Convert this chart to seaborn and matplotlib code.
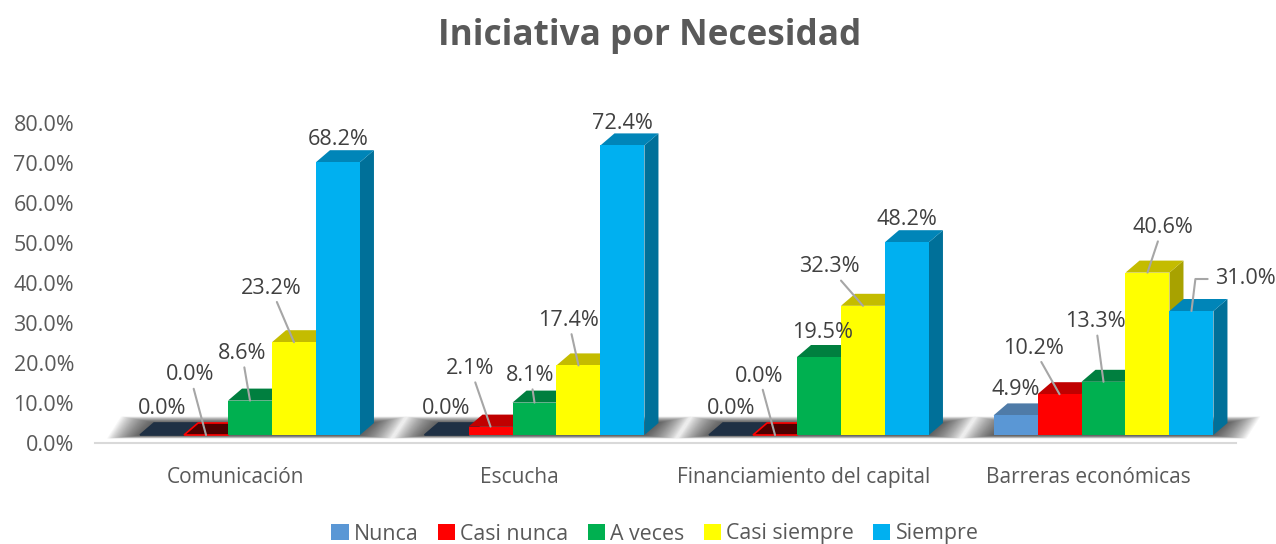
import numpy as np
import pandas as pd
import seaborn as sns
import matplotlib
matplotlib.use("Agg")
import matplotlib.pyplot as plt
from matplotlib.patches import Polygon
from matplotlib.transforms import ScaledTranslation

categories = ["Comunicación", "Escucha", "Financiamiento del capital", "Barreras económicas"]
series = ["Nunca", "Casi nunca", "A veces", "Casi siempre", "Siempre"]
nunca = [0.0, 0.0, 0.0, 4.9]
casi_nunca = [0.0, 2.1, 0.0, 10.2]
a_veces = [8.6, 8.1, 19.5, 13.3]
casi_siempre = [23.2, 17.4, 32.3, 40.6]
siempre = [68.2, 72.4, 48.2, 31.0]
y_ticks = [0, 10, 20, 30, 40, 50, 60, 70, 80]
title_text = "Iniciativa por Necesidad"

front = ["#5A97D5", "#FF0000", "#00B050", "#FFFF00", "#00B0F0"]
top = ["#4F7BA8", "#C00000", "#007F3F", "#C4BC00", "#0085B8"]
side = ["#3E6E9A", "#A00000", "#006B35", "#A8A200", "#007099"]
zero_top = ["#1F3044", "#4D0000", "#007F3F", "#C4BC00", "#0085B8"]
zero_edge = ["#1F3044", "#FF0000", "#007F3F", "#C4BC00", "#0085B8"]

# label offsets from the bar's front top centre, in pixels (category, then series)
label_dx = [[0, -16, -8, -23, 0], [0, -20, -4, -10, 0], [0, -16, 4, -34, 0], [0, -26, -8, 15, 54]]
label_dy = [[27, 60, 47, 54, 23], [27, 58, 27, 45, 22], [27, 59, 24, 39, 23], [26, 46, 60, 45, 32]]
leader = [[0, 1, 1, 1, 0], [0, 1, 1, 1, 0], [0, 1, 0, 1, 0], [0, 1, 1, 1, 2]]

FONT = "Open Sans"
W, H = 1276, 544
sns.set_theme(style="white")
plt.rcParams["font.family"] = [FONT, "DejaVu Sans"]

values = [nunca, casi_nunca, a_veces, casi_siempre, siempre]
df = pd.DataFrame({
    "categoria": categories * len(series),
    "serie": [s for s in series for _ in categories],
    "valor": [v for col in values for v in col],
})

fig = plt.figure(figsize=(W / 100, H / 100), dpi=100, facecolor="white")
ax_l, ax_r, ax_b, ax_t = 95, 1236, 443, 100
ax = fig.add_axes([ax_l / W, 1 - ax_b / H, (ax_r - ax_l) / W, (ax_b - ax_t) / H])

sns.barplot(data=df, x="categoria", y="valor", hue="serie", hue_order=series, order=categories,
            palette=front, width=0.773, gap=0, saturation=1, linewidth=0, ax=ax)

PX_Y = 4.0       # pixels per percent
PX_X = 284.5     # pixels per category
ax.set_ylim(-2, -2 + (ax_b - ax_t) / PX_Y)
ax.set_xlim((ax_l - 250) / PX_X, (ax_r - 250) / PX_X)
depth_x = 14 / PX_X
depth_y = 12 / PX_Y

# floor shadows
containers = list(ax.containers)
for g in range(len(categories)):
    left = containers[0][g].get_x()
    right = containers[-1][g].get_x() + containers[-1][g].get_width()
    for t in np.linspace(1, 0, 30):
        ex = (32 * t + 1) / PX_X
        ey0 = (3 * t + 0.5) / PX_Y
        ey1 = (6 * t + 0.5) / PX_Y
        pts = [(left - ex, -ey0), (right + ex, -ey0),
               (right + depth_x + ex, depth_y + ey1), (left + depth_x - ex, depth_y + ey1)]
        ax.add_patch(Polygon(pts, closed=True, fc="#202020", ec="none", alpha=0.035, zorder=1, clip_on=False))

# 3D faces, taken from the bars themselves
for s, cont in enumerate(containers):
    for g, bar in enumerate(cont):
        x, w, h = bar.get_x(), bar.get_width(), bar.get_height()
        z = 3 + s
        bar.set_zorder(z + 0.5)
        is_zero = h == 0
        ax.add_patch(Polygon([(x + w, 0), (x + w + depth_x, depth_y), (x + w + depth_x, h + depth_y), (x + w, h)],
                             closed=True, fc=side[s], ec="none", zorder=z))
        ax.add_patch(Polygon([(x, h), (x + w, h), (x + w + depth_x, h + depth_y), (x + depth_x, h + depth_y)],
                             closed=True, fc=zero_top[s] if is_zero else top[s],
                             ec=zero_edge[s] if is_zero else "none", lw=1.2 if is_zero else 0, zorder=z + 0.2))
        cx = x + w / 2
        style = leader[g][s]
        arrow = None
        if style == 1:
            arrow = dict(arrowstyle="-", color="#A6A6A6", lw=1.5, shrinkA=0, shrinkB=0)
        elif style == 2:
            arrow = dict(arrowstyle="-", color="#A6A6A6", lw=1.5, shrinkA=3, shrinkB=0, relpos=(0, 0.5),
                         connectionstyle="angle,angleA=0,angleB=83,rad=0")
        ax.annotate(f"{h:.1f}%", xy=(cx, h), xycoords="data",
                    xytext=(label_dx[g][s], label_dy[g][s]), textcoords="offset pixels",
                    ha="center", va="center", fontsize=15.6, color="#404040",
                    arrowprops=arrow, zorder=50, annotation_clip=False)

# axes
for name in ["top", "left", "right"]:
    ax.spines[name].set_visible(False)
ax.spines["bottom"].set_color("#D9D9D9")
ax.spines["bottom"].set_linewidth(1.5)
ax.spines["bottom"].set_zorder(2)
ax.set_xlabel("")
ax.set_ylabel("")
ax.set_yticks(y_ticks)
ax.set_yticklabels([f"{v:.1f}%" for v in y_ticks])
ax.tick_params(axis="y", length=0, pad=15, labelsize=15.5, labelcolor="#595959")
ax.tick_params(axis="x", length=0, pad=17.5, labelsize=15.0, labelcolor="#595959")
for lab in ax.get_yticklabels():
    lab.set_transform(lab.get_transform() + ScaledTranslation(0, -8 / 100, fig.dpi_scale_trans))
for lab in ax.get_xticklabels():
    lab.set_transform(lab.get_transform() + ScaledTranslation(-15 / 100, 0, fig.dpi_scale_trans))

sns.move_legend(ax, "center", bbox_to_anchor=(655 / W, 1 - 534 / H), bbox_transform=fig.transFigure,
                ncol=5, title=None, frameon=False, fontsize=15.4, labelcolor="#595959",
                handlelength=0.8, handleheight=0.8, handletextpad=0.25, columnspacing=0.9)

fig.text(650 / W, 1 - 36 / H, title_text, ha="center", va="center", fontsize=25.3,
         fontweight="bold", color="#595959")

fig.savefig("out.png", dpi=100, facecolor="white")
